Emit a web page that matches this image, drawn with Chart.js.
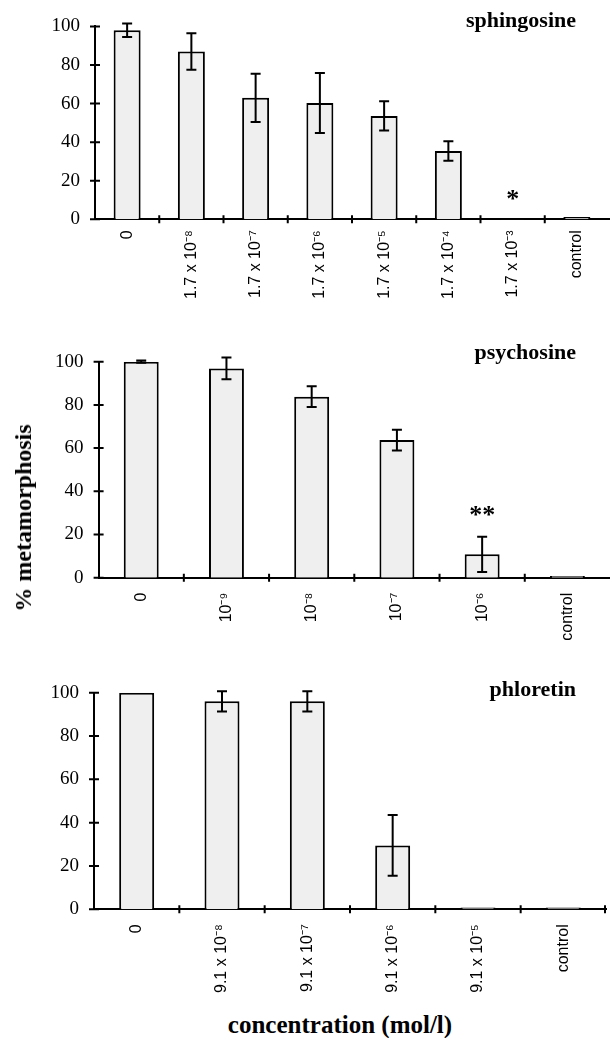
<!DOCTYPE html>
<html><head><meta charset="utf-8">
<script src="https://cdn.jsdelivr.net/npm/chart.js@4.4.1/dist/chart.umd.min.js"></script>
<style>
html,body{margin:0;padding:0;background:#fff;}
#wrap{position:relative;width:610px;height:1038px;overflow:hidden;background:#fff;}
canvas{position:absolute;left:0;}
.lbl{position:absolute;font-family:'Liberation Serif','Times New Roman',serif;font-weight:bold;color:#000;white-space:nowrap;line-height:1;}
</style></head><body>
<div id="wrap">
<canvas id="c1" width="610" height="320" style="top:0px;width:610px;height:320px"></canvas>
<canvas id="c2" width="610" height="330" style="top:330px;width:610px;height:330px"></canvas>
<canvas id="c3" width="610" height="340" style="top:665px;width:610px;height:340px"></canvas>
<div class="lbl" style="left:23px;top:518px;font-size:24px;transform:translate(-50%,-50%) rotate(-90deg);">% metamorphosis</div>
<div class="lbl" style="left:340px;top:1012px;font-size:25px;transform:translateX(-50%);">concentration (mol/l)</div>
</div>
<script>
// ---- data ----
const yTicks = [0, 20, 40, 60, 80, 100];

const sphingosineLabels = ['0', '1.7 x 10⁻⁸', '1.7 x 10⁻⁷', '1.7 x 10⁻⁶', '1.7 x 10⁻⁵', '1.7 x 10⁻⁴', '1.7 x 10⁻³', 'control'];
const sphingosineValues = [98, 87, 63, 60.3, 53.6, 35.4, 0.3, 1.2];
const sphingosineErrors = [3.5, 9.5, 12.5, 15.5, 7.6, 5.1, null, null];

const psychosineLabels = ['0', '10⁻⁹', '10⁻⁸', '10⁻⁷', '10⁻⁶', 'control'];
const psychosineValues = [100, 96.9, 83.8, 63.7, 10.8, 0.8];
const psychosineErrors = [0.5, 5, 4.8, 4.8, 8.2, null];

const phloretinLabels = ['0', '9.1 x 10⁻⁸', '9.1 x 10⁻⁷', '9.1 x 10⁻⁶', '9.1 x 10⁻⁵', 'control'];
const phloretinValues = [100, 96, 96, 29.5, 0.8, 0.8];
const phloretinErrors = [null, 4.7, 4.7, 14, null, null];

// ---- decoration plugin: error bars, significance marks, crossing ticks, panel title ----
const decor = {
  id: 'decor',
  afterDatasetsDraw(chart, args, o) {
    const ctx = chart.ctx, y = chart.scales.y;
    const meta = chart.getDatasetMeta(0);
    const vals = chart.data.datasets[0].data;
    ctx.save();
    ctx.strokeStyle = '#000';
    ctx.lineWidth = 2;
    (o.errors || []).forEach((e, i) => {
      if (e == null) return;
      const v = vals[i];
      const px = meta.data[i].x;
      const yt = y.getPixelForValue(v + e), yb = y.getPixelForValue(v - e);
      ctx.beginPath();
      ctx.moveTo(px, yt); ctx.lineTo(px, yb);
      ctx.moveTo(px - 5, yt); ctx.lineTo(px + 5, yt);
      ctx.moveTo(px - 5, yb); ctx.lineTo(px + 5, yb);
      ctx.stroke();
    });
    if (o.mark) {
      const px = meta.data[o.mark.index].x;
      ctx.fillStyle = '#000';
      ctx.font = 'bold 26px "Liberation Serif"';
      ctx.textAlign = 'center';
      ctx.textBaseline = 'middle';
      ctx.fillText(o.mark.text, px, y.getPixelForValue(o.mark.value));
    }
    ctx.restore();
  },
  afterDraw(chart, args, o) {
    const ctx = chart.ctx, x = chart.scales.x, y = chart.scales.y;
    const ca = chart.chartArea;
    ctx.save();
    ctx.strokeStyle = '#000';
    ctx.lineWidth = 2;
    ctx.beginPath();
    y.ticks.forEach(t => {
      const py = y.getPixelForValue(t.value);
      ctx.moveTo(ca.left - 5, py); ctx.lineTo(ca.left + 5, py);
    });
    const n = chart.data.labels.length;
    for (let i = 1; i <= n; i++) {
      let bx;
      if (i < n) bx = (x.getPixelForValue(i - 1) + x.getPixelForValue(i)) / 2;
      else if (o.endTick) bx = ca.right - 1;
      else continue;
      ctx.moveTo(bx, ca.bottom - 4); ctx.lineTo(bx, ca.bottom + 4);
    }
    ctx.stroke();
    ctx.fillStyle = '#000';
    ctx.font = 'bold 22px "Liberation Serif"';
    ctx.textAlign = 'right';
    ctx.textBaseline = 'alphabetic';
    ctx.fillText(o.title, o.titleX, o.titleY);
    ctx.restore();
  }
};

function makeChart(id, labels, values, errors, cfg) {
  return new Chart(document.getElementById(id), {
    type: 'bar',
    data: {
      labels: labels,
      datasets: [{
        data: values,
        backgroundColor: '#efefef',
        borderColor: '#000',
        borderWidth: 2,
        barPercentage: cfg.barPct,
        categoryPercentage: 1
      }]
    },
    options: {
      responsive: false,
      animation: false,
      devicePixelRatio: 1,
      layout: { padding: { top: cfg.top, left: 0, right: cfg.right, bottom: 0 } },
      plugins: {
        legend: { display: false },
        tooltip: { enabled: false },
        decor: { errors: errors, mark: cfg.mark, title: cfg.title, titleX: 576, titleY: cfg.titleY, endTick: cfg.endTick }
      },
      scales: {
        x: {
          offset: true,
          grid: { display: false, drawTicks: false },
          border: { display: true, color: '#000', width: 2 },
          ticks: {
            color: '#000', autoSkip: false, minRotation: 90, maxRotation: 90,
            padding: cfg.xPad,
            font: { family: '"Liberation Sans", Arial, sans-serif', size: 16 }
          },
          afterFit: s => { s.height = cfg.xH; }
        },
        y: {
          min: 0, max: 100,
          afterBuildTicks: s => { s.ticks = yTicks.map(v => ({ value: v })); },
          grid: { display: false, drawTicks: false },
          border: { display: true, color: '#000', width: 2 },
          ticks: {
            color: '#000', padding: 15,
            font: { family: '"Liberation Serif", "Times New Roman", serif', size: 19 }
          },
          afterFit: s => { s.width = cfg.yW; }
        }
      }
    },
    plugins: [decor]
  });
}

makeChart('c1', sphingosineLabels, sphingosineValues, sphingosineErrors, {
  barPct: 0.42, top: 22.7, right: 1, xH: 320 - 219.3, yW: 95, xPad: 11,
  title: 'sphingosine', titleY: 26.5, endTick: false,
  mark: { index: 6, text: '*', value: 10 }
});
makeChart('c2', psychosineLabels, psychosineValues, psychosineErrors, {
  barPct: 0.41, top: 31.7, right: 0, xH: 330 - 247.7, yW: 98.6, xPad: 15,
  title: 'psychosine', titleY: 28.5, endTick: false,
  mark: { index: 4, text: '**', value: 28.4 }
});
makeChart('c3', phloretinLabels, phloretinValues, phloretinErrors, {
  barPct: 0.41, top: 27.7, right: 4, xH: 340 - 244.3, yW: 94, xPad: 15,
  title: 'phloretin', titleY: 31, endTick: true,
  mark: null
});
</script>
</body></html>
